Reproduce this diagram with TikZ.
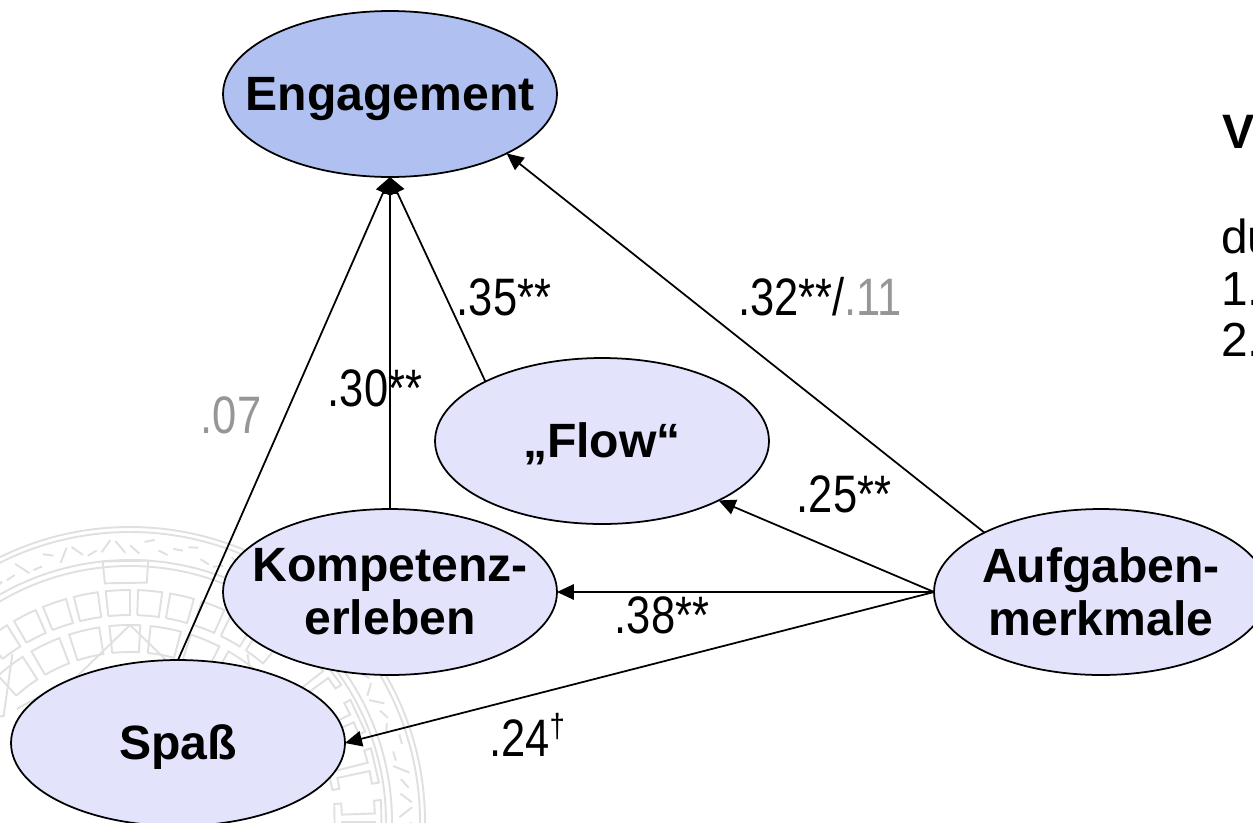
\documentclass[tikz,border=0pt]{standalone}
\usepackage{fontspec}
\setmainfont{Liberation Sans}
\newfontfamily\narrowfont[FakeStretch=0.825]{Liberation Sans}
\usetikzlibrary{shapes.geometric,arrows.meta}
\definecolor{sealgray}{HTML}{E0E0E0}
\definecolor{coefgray}{HTML}{969696}
\definecolor{constructfill}{HTML}{E3E4FC}
\definecolor{outcomefill}{HTML}{B0C0F0}
\tikzset{
construct/.style={ellipse,draw,line width=1pt,fill=constructfill,inner sep=-2cm,outer sep=0pt,
  minimum width=6.68cm,minimum height=3.32cm,align=center,
  font=\fontsize{27.4}{30}\selectfont\bfseries},
oneline/.style={text height=.86cm,text depth=.22cm},
coef/.style={inner sep=0pt,font=\fontsize{30}{32}\narrowfont},
sidetext/.style={inner sep=0pt,anchor=base west,font=\fontsize{27.2}{29}\selectfont},
path/.style={line width=1pt,-{Triangle[length=.34cm,width=.31cm]}},
seal/.style={draw=sealgray,line width=1.1pt},
}
\begin{document}
\begin{tikzpicture}[x=.02cm,y=-.02cm]
\useasboundingbox (0,0) rectangle (1253,822);

% seal in the background
\pgfmathsetseed{17}
\begin{scope}[shift={(130,822)}]
\foreach \r in {295,290,262,256}
  \draw[seal] (0,0) circle[radius=\r];
\foreach \a in {-128,-120,...,-56}
  \draw[seal] (\a:207) -- (\a:232) arc[start angle=\a,delta angle=6,radius=232] -- ({\a+6}:207) arc[start angle={\a+6},delta angle=-6,radius=207];
\foreach \a in {-132,-120,...,-48}
  \draw[seal] (\a:170) -- (\a:197) arc[start angle=\a,delta angle=9,radius=197] -- ({\a+9}:170) arc[start angle={\a+9},delta angle=-9,radius=170];
\foreach \a in {-180,-177,...,5} {
  \pgfmathsetmacro{\ra}{268+rnd*16}
  \pgfmathsetmacro{\rb}{268+rnd*16}
  \draw[seal] (\a:\ra) -- ({\a+2}:\rb);
}
\foreach \a in {-42,-30,...,6} {
  \draw[seal] ({\a+1}:205) -- ({\a+9}:205) -- ({\a+9}:212) -- ({\a+6}:212) -- ({\a+6}:245) -- ({\a+9}:245) -- ({\a+9}:252) -- ({\a+1}:252) -- ({\a+1}:245) -- ({\a+4}:245) -- ({\a+4}:212) -- ({\a+1}:212) -- cycle;
}
\foreach \a in {-175,-165,-155,-145}
  \draw[seal] (\a:205) -- ({\a+4}:250) -- ({\a+8}:205);
\draw[seal] (-96:240) -- (-96:262) -- (-86:262) -- (-86:240) -- cycle;
\draw[seal] (-135:160) -- (-110:155) -- (-90:197) -- (-70:155) -- (-45:160);
\draw[seal] (-150:200) -- (-140:165) -- (-125:205);
\draw[seal] (-55:205) -- (-40:165) -- (-30:200);
\end{scope}

\node[construct,oneline,fill=outcomefill] (engagement) at (390,94) {Engagement};
\node[construct,oneline] (flow) at (602,441) {„Flow“};
\node[construct] (kompetenz) at (390,592) {Kompetenz-\\erleben};
\node[construct] (aufgaben) at (1101,592) {Aufgaben-\\merkmale};
\node[construct,oneline] (spass) at (178,743) {Spaß};

\draw[path] (spass.north) -- (engagement.south);
\draw[path] (kompetenz.north) -- (engagement.south);
\draw[path] (flow.153) -- (engagement.south);
\draw[path] (aufgaben.153) -- (engagement.-27);
\draw[path] (aufgaben.west) -- (flow.-27);
\draw[path] (aufgaben.west) -- (kompetenz.east);
\draw[path] (aufgaben.west) -- (spass.east);

\node[coef,text=coefgray] (c07) at (231,415) {.07};
\node[coef] (c30) at (375,388) {.30**};
\node[coef] (c35) at (504,297) {.35**};
\node[coef] (c32) at (820,297) {.32**/{\color{coefgray}.11}};
\node[coef] (c25) at (844,494) {.25**};
\node[coef] (c38) at (662,615) {.38**};
\node[coef] (c24) at (527,735) {.24\raisebox{.35em}{\fontsize{19}{19}\selectfont †}};

\node[sidetext,font=\fontsize{27.5}{29}\selectfont\bfseries] (vtext) at (1222,148) {V};
\node[sidetext] (dutext) at (1221,253) {du};
\node[sidetext] (onetext) at (1221,305) {1.};
\node[sidetext] (twotext) at (1221,356) {2.};
\end{tikzpicture}
\end{document}
